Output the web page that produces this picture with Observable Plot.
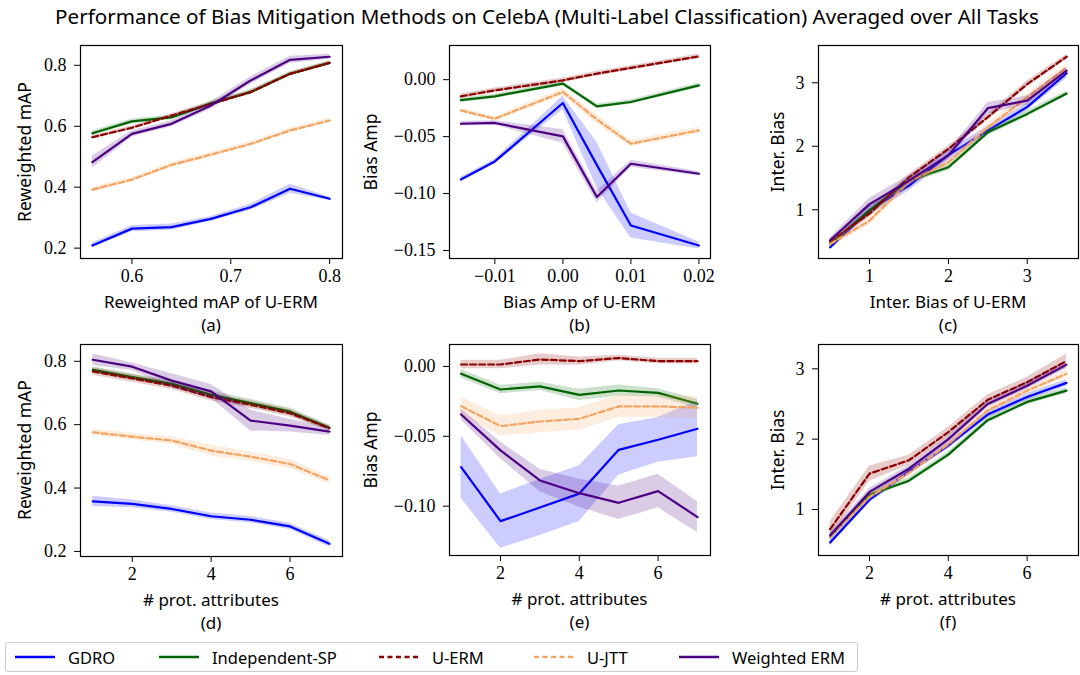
<!DOCTYPE html>
<html>
<head>
<meta charset="utf-8">
<script src="https://cdn.jsdelivr.net/npm/d3@7"></script>
<script src="https://cdn.jsdelivr.net/npm/@observablehq/plot@0.6"></script>
<style>
  html, body { margin: 0; padding: 0; background: #fff; }
  #root { position: relative; width: 1080px; height: 675px; overflow: hidden; font-family: "Noto Sans", sans-serif; color: #000; }
  .lbl { position: absolute; white-space: nowrap; transform: translate(-50%, -50%); font-size: 17px; line-height: 1; }
  .ylbl { position: absolute; white-space: nowrap; transform: translate(-50%, -50%) rotate(-90deg); font-size: 17.5px; line-height: 1; }
  .panel { position: absolute; }
  #legend { position: absolute; left: 5px; top: 642px; width: 853px; height: 30px; border: 1px solid #ccc; border-radius: 3px; box-sizing: border-box; }
  .litem { position: absolute; top: 0; height: 28px; display: flex; align-items: center; font-size: 16.5px; }
  .litem svg { margin-right: 12px; }
</style>
</head>
<body>
<div id="root"></div>
<script>
// ---------------- data ----------------
const methods = ["GDRO", "Independent-SP", "U-ERM", "U-JTT", "Weighted ERM"];
const colors = ["#0000ff", "#006400", "#8b0000", "#f4a460", "#4b0082"];
const dashes = [null, null, "6,3", "6,3", null];

// (a) Reweighted mAP vs Reweighted mAP of U-ERM
const aX = [0.56, 0.60, 0.64, 0.68, 0.72, 0.76, 0.80];
const aGDRO  = [0.209, 0.264, 0.269, 0.296, 0.334, 0.395, 0.362];
const aIndSP = [0.577, 0.616, 0.629, 0.675, 0.712, 0.772, 0.808];
const aUERM  = [0.564, 0.595, 0.635, 0.673, 0.712, 0.772, 0.808];
const aUJTT  = [0.392, 0.425, 0.473, 0.507, 0.542, 0.586, 0.619];
const aWERM  = [0.482, 0.575, 0.608, 0.668, 0.750, 0.818, 0.828];
const aGDROerr  = [0.008, 0.010, 0.010, 0.008, 0.010, 0.015, 0.006];
const aIndSPerr = [0.008, 0.008, 0.008, 0.008, 0.008, 0.006, 0.006];
const aUERMerr  = [0.006, 0.006, 0.006, 0.006, 0.006, 0.006, 0.006];
const aUJTTerr  = [0.008, 0.008, 0.008, 0.008, 0.008, 0.008, 0.008];
const aWERMerr  = [0.020, 0.010, 0.010, 0.012, 0.012, 0.012, 0.008];

// (b) Bias Amp vs Bias Amp of U-ERM
const bX = [-0.015, -0.01, 0.0, 0.005, 0.01, 0.02];
const bGDRO  = [-0.0876, -0.0718, -0.0205, -0.075, -0.128, -0.1456];
const bIndSP = [-0.018, -0.0146, -0.0035, -0.0234, -0.0196, -0.005];
const bUERM  = [-0.0146, -0.0094, -0.0006, 0.0053, 0.0103, 0.0205];
const bUJTT  = [-0.027, -0.0343, -0.0108, -0.035, -0.0562, -0.0445];
const bWERM  = [-0.0387, -0.038, -0.0498, -0.103, -0.0738, -0.0826];
const bGDROerr  = [0.002, 0.002, 0.006, 0.02, 0.011, 0.003];
const bIndSPerr = [0.002, 0.002, 0.002, 0.002, 0.002, 0.002];
const bUERMerr  = [0.002, 0.002, 0.002, 0.002, 0.002, 0.002];
const bUJTTerr  = [0.002, 0.002, 0.003, 0.004, 0.003, 0.003];
const bWERMerr  = [0.002, 0.002, 0.006, 0.005, 0.003, 0.002];

// (c) Inter. Bias vs Inter. Bias of U-ERM
const cX = [0.5, 1.0, 1.5, 2.0, 2.5, 3.0, 3.5];
const cGDRO  = [0.41, 0.99, 1.38, 1.86, 2.25, 2.62, 3.15];
const cIndSP = [0.46, 0.99, 1.46, 1.67, 2.22, 2.51, 2.83];
const cUERM  = [0.50, 0.94, 1.51, 1.96, 2.46, 2.98, 3.41];
const cUJTT  = [0.46, 0.83, 1.44, 1.75, 2.30, 2.77, 3.24];
const cWERM  = [0.52, 1.09, 1.46, 1.86, 2.60, 2.72, 3.19];
const cGDROerr  = [0.04, 0.08, 0.08, 0.08, 0.06, 0.06, 0.08];
const cIndSPerr = [0.04, 0.05, 0.05, 0.05, 0.05, 0.05, 0.04];
const cUERMerr  = [0.04, 0.05, 0.05, 0.05, 0.05, 0.05, 0.04];
const cUJTTerr  = [0.04, 0.07, 0.06, 0.06, 0.07, 0.07, 0.06];
const cWERMerr  = [0.04, 0.09, 0.08, 0.07, 0.09, 0.07, 0.06];

// (d) Reweighted mAP vs # prot. attributes
const dX = [1, 2, 3, 4, 5, 6, 7];
const dGDRO  = [0.358, 0.350, 0.334, 0.311, 0.300, 0.279, 0.224];
const dIndSP = [0.773, 0.750, 0.729, 0.694, 0.668, 0.641, 0.590];
const dUERM  = [0.768, 0.746, 0.723, 0.687, 0.663, 0.636, 0.589];
const dUJTT  = [0.576, 0.562, 0.550, 0.518, 0.499, 0.476, 0.424];
const dWERM  = [0.805, 0.783, 0.739, 0.705, 0.613, 0.597, 0.578];
const dGDROerr  = [0.016, 0.012, 0.010, 0.010, 0.010, 0.010, 0.010];
const dIndSPerr = [0.010, 0.010, 0.010, 0.012, 0.012, 0.012, 0.008];
const dUERMerr  = [0.012, 0.012, 0.012, 0.012, 0.012, 0.012, 0.008];
const dUJTTerr  = [0.010, 0.010, 0.012, 0.018, 0.015, 0.015, 0.012];
const dWERMerr  = [0.018, 0.012, 0.022, 0.022, 0.033, 0.020, 0.012];

// (e) Bias Amp vs # prot. attributes
const eX = [1, 2, 3, 4, 5, 6, 7];
const eGDRO  = [-0.072, -0.1107, -0.101, -0.091, -0.0597, -0.0525, -0.0446];
const eIndSP = [-0.0052, -0.0165, -0.0143, -0.0203, -0.0172, -0.0189, -0.0267];
const eUERM  = [0.0014, 0.0014, 0.005, 0.0038, 0.006, 0.0038, 0.0038];
const eUJTT  = [-0.0284, -0.0427, -0.0394, -0.0375, -0.0286, -0.0286, -0.0296];
const eWERM  = [-0.0344, -0.0601, -0.0816, -0.0907, -0.0976, -0.0892, -0.1078];
const eGDROerr  = [0.0224, 0.0195, 0.020, 0.020, 0.018, 0.016, 0.020];
const eIndSPerr = [0.003, 0.003, 0.003, 0.004, 0.004, 0.003, 0.003];
const eUERMerr  = [0.003, 0.003, 0.004, 0.003, 0.002, 0.002, 0.002];
const eUJTTerr  = [0.0065, 0.007, 0.008, 0.008, 0.008, 0.008, 0.008];
const eWERMerr  = [0.004, 0.006, 0.008, 0.010, 0.012, 0.012, 0.011];

// (f) Inter. Bias vs # prot. attributes
const fX = [1, 2, 3, 4, 5, 6, 7];
const fGDRO  = [0.53, 1.14, 1.54, 1.91, 2.35, 2.60, 2.80];
const fIndSP = [0.61, 1.21, 1.41, 1.78, 2.27, 2.53, 2.69];
const fUERM  = [0.72, 1.51, 1.70, 2.10, 2.56, 2.81, 3.11];
const fUJTT  = [0.61, 1.18, 1.52, 1.93, 2.41, 2.69, 2.93];
const fWERM  = [0.63, 1.25, 1.58, 2.00, 2.50, 2.76, 3.06];
const fGDROerr  = [0.05, 0.05, 0.05, 0.05, 0.05, 0.05, 0.05];
const fIndSPerr = [0.04, 0.04, 0.04, 0.04, 0.04, 0.04, 0.04];
const fUERMerr  = [0.11, 0.11, 0.07, 0.07, 0.07, 0.07, 0.10];
const fUJTTerr  = [0.05, 0.05, 0.05, 0.05, 0.05, 0.05, 0.05];
const fWERMerr  = [0.05, 0.05, 0.05, 0.05, 0.05, 0.05, 0.05];

// tick values
const ticksMAP = [0.2, 0.4, 0.6, 0.8];
const ticksAX = [0.6, 0.7, 0.8];
const ticksBY = [-0.15, -0.10, -0.05, 0.00];
const ticksBX = [-0.01, 0.00, 0.01, 0.02];
const ticksInter = [1, 2, 3];
const ticksAttr = [2, 4, 6];
const ticksEY = [-0.10, -0.05, 0.00];

const title = "Performance of Bias Mitigation Methods on CelebA (Multi-Label Classification) Averaged over All Tasks";

// ---------------- layout ----------------
const panels = [
  {id: "a", x: aX, ys: [aGDRO, aIndSP, aUERM, aUJTT, aWERM], es: [aGDROerr, aIndSPerr, aUERMerr, aUJTTerr, aWERMerr],
   frame: [80, 45, 342, 258], xd: [0.548, 0.813], yd: [0.166, 0.865], xt: ticksAX, yt: ticksMAP, xf: ".1f", yf: ".1f",
   xl: "Reweighted mAP of U-ERM", yl: "Reweighted mAP", ylx: 25},
  {id: "b", x: bX, ys: [bGDRO, bIndSP, bUERM, bUJTT, bWERM], es: [bGDROerr, bIndSPerr, bUERMerr, bUJTTerr, bWERMerr],
   frame: [449, 45, 710, 258], xd: [-0.01667, 0.0217], yd: [-0.157, 0.030], xt: ticksBX, yt: ticksBY, xf: ".2f", yf: ".2f",
   xl: "Bias Amp of U-ERM", yl: "Bias Amp", ylx: 371},
  {id: "c", x: cX, ys: [cGDRO, cIndSP, cUERM, cUJTT, cWERM], es: [cGDROerr, cIndSPerr, cUERMerr, cUJTTerr, cWERMerr],
   frame: [818, 45, 1078, 258], xd: [0.352, 3.65], yd: [0.233, 3.587], xt: ticksInter, yt: ticksInter, xf: "d", yf: "d",
   xl: "Inter. Bias of U-ERM", yl: "Inter. Bias", ylx: 778},
  {id: "d", x: dX, ys: [dGDRO, dIndSP, dUERM, dUJTT, dWERM], es: [dGDROerr, dIndSPerr, dUERMerr, dUJTTerr, dWERMerr],
   frame: [80, 344, 342, 556], xd: [0.688, 7.33], yd: [0.184, 0.853], xt: ticksAttr, yt: ticksMAP, xf: "d", yf: ".1f",
   xl: "# prot. attributes", yl: "Reweighted mAP", ylx: 25},
  {id: "e", x: eX, ys: [eGDRO, eIndSP, eUERM, eUJTT, eWERM], es: [eGDROerr, eIndSPerr, eUERMerr, eUJTTerr, eWERMerr],
   frame: [449, 344, 710, 555], xd: [0.705, 7.33], yd: [-0.1353, 0.0157], xt: ticksAttr, yt: ticksEY, xf: "d", yf: ".2f",
   xl: "# prot. attributes", yl: "Bias Amp", ylx: 371},
  {id: "f", x: fX, ys: [fGDRO, fIndSP, fUERM, fUJTT, fWERM], es: [fGDROerr, fIndSPerr, fUERMerr, fUJTTerr, fWERMerr],
   frame: [818, 344, 1078, 555], xd: [0.705, 7.305], yd: [0.346, 3.346], xt: ticksAttr, yt: ticksInter, xf: "d", yf: "d",
   xl: "# prot. attributes", yl: "Inter. Bias", ylx: 778}
];

const root = document.getElementById("root");

function addDiv(cls, text, x, y, extra) {
  const d = document.createElement("div");
  d.className = cls;
  d.textContent = text;
  d.style.left = x + "px";
  d.style.top = y + "px";
  if (extra) Object.assign(d.style, extra);
  root.appendChild(d);
  return d;
}

addDiv("lbl", title, 547, 16, {fontSize: "20.6px"});

const serif = "Liberation Serif";

panels.forEach((p, pi) => {
  const [fx0, fy0, fx1, fy1] = p.frame;
  const col = pi % 3;
  const sx = col * 360;
  const sy = fy0 - 12;
  const w = 360;
  const h = (fy1 - fy0) + 12 + 36;
  const marks = [];
  methods.forEach((m, i) => {
    const rows = p.x.map((xv, j) => ({x: xv, y: p.ys[i][j], lo: p.ys[i][j] - p.es[i][j], hi: p.ys[i][j] + p.es[i][j]}));
    marks.push(Plot.areaY(rows, {x: "x", y1: "lo", y2: "hi", fill: colors[i], fillOpacity: 0.2}));
    const lopt = {x: "x", y: "y", stroke: colors[i], strokeWidth: 2.2};
    if (dashes[i]) lopt.strokeDasharray = dashes[i];
    marks.push(Plot.line(rows, lopt));
  });
  marks.push(Plot.axisX({ticks: p.xt, tickFormat: d3.format(p.xf), tickSize: 6, tickPadding: 5, label: null, fontSize: 18, fontFamily: serif}));
  marks.push(Plot.axisY({ticks: p.yt, tickFormat: d3.format(p.yf), tickSize: 6, tickPadding: 8, label: null, fontSize: 18, fontFamily: serif}));
  marks.push(Plot.frame({stroke: "black", strokeWidth: 1.2}));
  const svg = Plot.plot({
    width: w, height: h,
    marginLeft: fx0 - sx, marginRight: sx + w - fx1, marginTop: 12, marginBottom: 36,
    x: {type: "linear", domain: p.xd},
    y: {type: "linear", domain: p.yd},
    style: "background: transparent; font-family: 'Liberation Serif', serif; font-size: 18px; overflow: visible; color: black;",
    marks
  });
  const wrap = document.createElement("div");
  wrap.className = "panel";
  wrap.style.left = sx + "px";
  wrap.style.top = sy + "px";
  wrap.appendChild(svg);
  root.appendChild(wrap);

  const cx = (fx0 + fx1) / 2;
  addDiv("lbl", p.xl, cx, fy1 + 43);
  addDiv("lbl", "(" + p.id + ")", cx, fy1 + 66);
  addDiv("ylbl", p.yl, p.ylx, (fy0 + fy1) / 2);
});

// legend
const legend = document.createElement("div");
legend.id = "legend";
root.appendChild(legend);
const legendX = [8, 152, 372, 527, 672];
methods.forEach((m, i) => {
  const item = document.createElement("div");
  item.className = "litem";
  item.style.left = legendX[i] + "px";
  const s = d3.create("svg").attr("width", 42).attr("height", 10);
  s.append("line").attr("x1", 1).attr("x2", 41).attr("y1", 5).attr("y2", 5)
    .attr("stroke", colors[i]).attr("stroke-width", 2.5)
    .attr("stroke-dasharray", dashes[i] ? "5,3.5" : null);
  item.appendChild(s.node());
  const t = document.createElement("span");
  t.textContent = m;
  item.appendChild(t);
  legend.appendChild(item);
});
</script>
</body>
</html>
